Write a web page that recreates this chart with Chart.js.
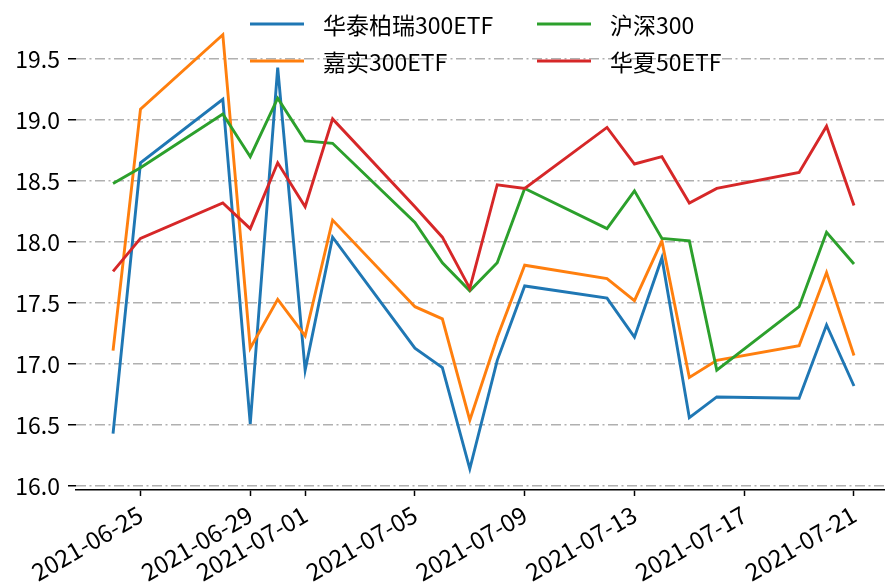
<!DOCTYPE html>
<html>
<head>
<meta charset="utf-8">
<script src="https://cdn.jsdelivr.net/npm/chart.js@4.4.0/dist/chart.umd.min.js"></script>
<style>
  html, body { margin: 0; padding: 0; background: #fff; }
  #wrap { width: 885px; height: 584px; }
</style>
</head>
<body>
<div id="wrap"><canvas id="etfChart" width="885" height="584"></canvas></div>
<script>
// trading days
const dates = [
    '2021-06-24', '2021-06-25', '2021-06-28', '2021-06-29', '2021-06-30',
    '2021-07-01', '2021-07-02', '2021-07-05', '2021-07-06', '2021-07-07',
    '2021-07-08', '2021-07-09', '2021-07-12', '2021-07-13', '2021-07-14',
    '2021-07-15', '2021-07-16', '2021-07-19', '2021-07-20', '2021-07-21'
];

const huataiValues = [16.43, 18.65, 19.17, 16.51, 19.43, 16.95, 18.04, 17.13, 16.97, 16.14,
                      17.03, 17.64, 17.54, 17.22, 17.87, 16.56, 16.73, 16.72, 17.32, 16.82];
const jiashiValues = [17.11, 19.09, 19.70, 17.13, 17.53, 17.23, 18.18, 17.47, 17.37, 16.54,
                      17.22, 17.81, 17.70, 17.52, 18.01, 16.89, 17.03, 17.15, 17.75, 17.07];
const hs300Values  = [18.48, 18.61, 19.05, 18.70, 19.18, 18.83, 18.81, 18.16, 17.83, 17.60,
                      17.83, 18.44, 18.11, 18.42, 18.03, 18.01, 16.95, 17.47, 18.08, 17.82];
const huaxiaValues = [17.76, 18.03, 18.32, 18.11, 18.65, 18.29, 19.01, 18.29, 18.04, 17.62,
                      18.47, 18.44, 18.94, 18.64, 18.70, 18.32, 18.44, 18.57, 18.95, 18.30];

const seriesNames  = ['华泰柏瑞300ETF', '嘉实300ETF', '沪深300', '华夏50ETF'];
const seriesColors = ['#1f77b4', '#ff7f0e', '#2ca02c', '#d62728'];

const xTickDates = ['2021-06-25', '2021-06-29', '2021-07-01', '2021-07-05',
                    '2021-07-09', '2021-07-13', '2021-07-17', '2021-07-21'];
const yTickValues = [16.0, 16.5, 17.0, 17.5, 18.0, 18.5, 19.0, 19.5];

const FONT = "'Noto Sans CJK SC', 'DejaVu Sans', sans-serif";

function dayNum(s) {
    const p = s.split('-');
    return Date.UTC(+p[0], +p[1] - 1, +p[2]) / 86400000;
}
function dayLabel(n) {
    return new Date(Math.round(n) * 86400000).toISOString().slice(0, 10);
}

const allSeries = [huataiValues, jiashiValues, hs300Values, huaxiaValues];
const datasets = allSeries.map((vals, i) => ({
    label: seriesNames[i],
    data: dates.map((d, j) => ({ x: dayNum(d), y: vals[j] })),
    borderColor: seriesColors[i],
    backgroundColor: seriesColors[i],
    borderWidth: 2.9,
    pointRadius: 0,
    tension: 0,
    fill: false,
    order: allSeries.length - i   // last series drawn on top, like matplotlib
}));

// matplotlib style legend: 2 columns, filled column by column
const legendPlugin = {
    id: 'mplLegend',
    afterDraw(chart) {
        const ctx = chart.ctx;
        const colX = [250, 537];
        const rowY = [24, 61];
        ctx.save();
        ctx.font = '23px ' + FONT;
        ctx.textBaseline = 'middle';
        ctx.textAlign = 'left';
        seriesNames.forEach((name, i) => {
            const x = colX[Math.floor(i / 2)];
            const y = rowY[i % 2];
            ctx.strokeStyle = seriesColors[i];
            ctx.lineWidth = 3.2;
            ctx.beginPath();
            ctx.moveTo(x, y);
            ctx.lineTo(x + 54, y);
            ctx.stroke();
            ctx.fillStyle = '#000';
            ctx.fillText(name, x + 73, y + 1);
        });
        ctx.restore();
    }
};

new Chart(document.getElementById('etfChart'), {
    type: 'line',
    data: { datasets: datasets },
    options: {
        responsive: false,
        animation: false,
        layout: { padding: { top: 14, right: 0, bottom: 0, left: 0 } },
        plugins: {
            legend: { display: false },
            tooltip: { enabled: false }
        },
        scales: {
            x: {
                type: 'linear',
                min: dayNum(dates[0]) - 1.35,
                max: dayNum(dates[dates.length - 1]) + 1.13,
                afterBuildTicks: scale => {
                    scale.ticks = xTickDates.map(d => ({ value: dayNum(d) }));
                },
                afterFit: scale => { scale.height = 94; },
                grid: {
                    drawOnChartArea: false,
                    tickLength: 6,
                    tickColor: '#000',
                    tickWidth: 1.5
                },
                border: { color: '#000', width: 1.6 },
                ticks: {
                    autoSkip: false,
                    minRotation: 30,
                    maxRotation: 30,
                    padding: 4,
                    color: '#000',
                    font: { family: FONT, size: 24 },
                    callback: value => dayLabel(value)
                }
            },
            y: {
                min: 15.967,
                max: 19.87,
                afterBuildTicks: scale => {
                    scale.ticks = yTickValues.map(v => ({ value: v }));
                },
                afterFit: scale => {
                    scale.width = 76;
                    scale.paddingTop = 0;
                    scale.paddingBottom = 0;
                },
                grid: {
                    color: '#b0b0b0',
                    lineWidth: 1.5,
                    tickLength: 8,
                    tickColor: '#000',
                    tickWidth: 1.5,
                    tickBorderDash: []
                },
                border: { display: false, dash: [10, 3.5, 2, 3.5] },
                ticks: {
                    padding: 8,
                    color: '#000',
                    font: { family: FONT, size: 23 },
                    callback: value => value.toFixed(1)
                }
            }
        }
    },
    plugins: [legendPlugin]
});
</script>
</body>
</html>
